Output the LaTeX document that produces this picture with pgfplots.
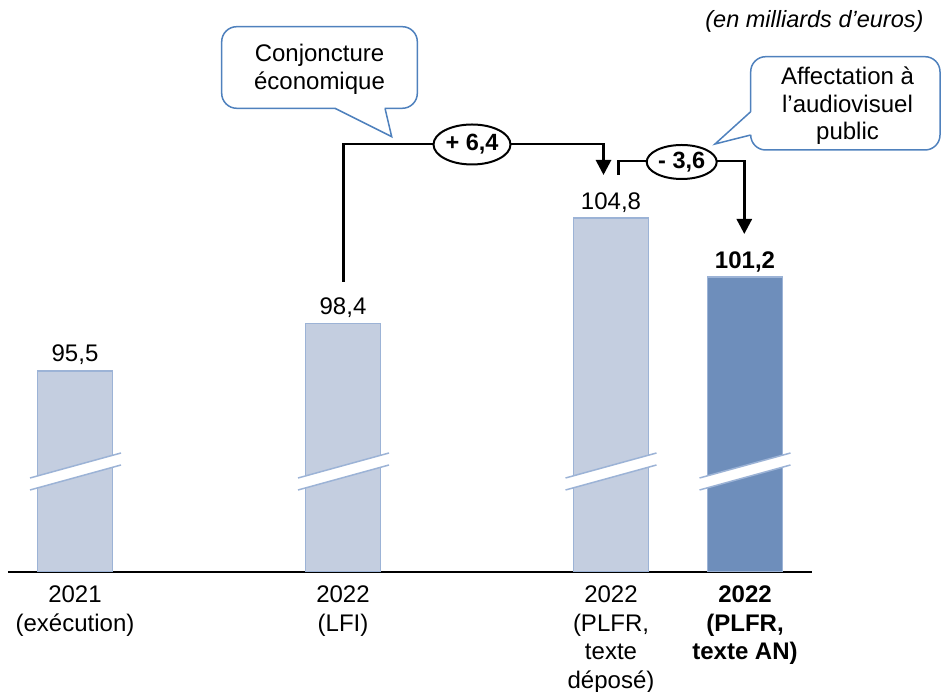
\documentclass[border=0pt]{standalone}
\usepackage{pgfplots}
\pgfplotsset{compat=1.18}
\usepackage{fontspec}
\setmainfont{Liberation Sans}
\usetikzlibrary{arrows.meta,shapes.geometric}

\definecolor{barlight}{RGB}{196,206,224}
\definecolor{bardark}{RGB}{110,142,187}
\definecolor{baredge}{RGB}{156,179,214}
\definecolor{callout}{RGB}{79,129,189}

\newcommand{\lbl}{\fontsize{24}{28.5}\selectfont}

\begin{document}
\begin{tikzpicture}
\useasboundingbox (-8pt,-120pt) rectangle (934pt,572pt);
\begin{axis}[
  at={(0pt,0pt)}, anchor=south west,
  width=804pt, height=572pt, scale only axis,
  xmin=-0.5, xmax=5.5, ymin=83.281, ymax=118.053,
  axis x line*=bottom, axis y line=none,
  x axis line style={black, line width=1.6pt},
  xtick={0,2,4,5},
  xticklabels={{2021\\(exécution)},{2022\\(LFI)},{2022\\(PLFR,\\texte\\déposé)},{\textbf{2022}\\\textbf{(PLFR,}\\\textbf{texte AN)}}},
  major tick length=0pt,
  xticklabel style={font=\lbl, align=center, anchor=north, inner sep=0pt, yshift=-14pt},
  ybar, clip mode=individual,
  /pgf/number format/assume math mode=true,
  nodes near coords={\pgfmathprintnumber[fixed,fixed zerofill,precision=1,use comma]{\pgfplotspointmeta}},
  every node near coord/.append style={font=\lbl, text=black, anchor=base, inner sep=0pt, yshift=9pt},
]
\addplot[fill=barlight, draw=baredge, line width=1.5pt, bar width=75pt, bar shift=0pt]
  coordinates {(0,95.5) (2,98.4) (4,104.8)};
\addplot[fill=bardark, draw=baredge, line width=1.5pt, bar width=75pt, bar shift=0pt,
  every node near coord/.append style={font=\lbl\bfseries}]
  coordinates {(5,101.2)};
\end{axis}

% annotations in a pixel-like frame: origin at the top-left corner, y downwards
\begin{scope}[x=1pt, y=-1pt, shift={(-8pt,572pt)}]
  % axis-break marks across each bar
  \foreach \c in {75,343,610.5,744.5} {
    \fill[white] (\c-45,478) -- (\c+46,453) -- (\c+46,465) -- (\c-45,490) -- cycle;
    \draw[baredge, line width=1.5pt] (\c-45,478) -- (\c+46,453);
    \draw[baredge, line width=1.5pt] (\c-45,490) -- (\c+46,465);
  }

  % bridge LFI -> PLFR
  \draw[line width=2.8pt, -{Triangle[width=15pt,length=15pt]}]
    (343.3,282) -- (343.3,144) -- (603.5,144) -- (603.5,175);
  \node[draw, ellipse, fill=white, line width=2pt, minimum width=77pt, minimum height=40pt,
        inner sep=0pt, font=\fontsize{23.5}{26}\selectfont\bfseries] at (472,144.5) {+ 6,4};

  % bridge PLFR -> texte AN
  \draw[line width=2.8pt, -{Triangle[width=15pt,length=15pt]}]
    (618.5,175) -- (618.5,161) -- (744.3,161) -- (744.3,234);
  \node[draw, ellipse, fill=white, line width=2pt, minimum width=70pt, minimum height=34pt,
        inner sep=0pt, font=\fontsize{23.5}{26}\selectfont\bfseries] at (681.7,162) {- 3,6};

  % callout: conjoncture
  \filldraw[fill=white, draw=callout, line width=1.5pt, rounded corners=15pt]
    (221.7,26.7) rectangle (417.3,108.3);
  \fill[white] (336,106.5) -- (384,106.5) -- (385,108.3) -- (391.7,136.7) -- (335,108.3) -- cycle;
  \draw[callout, line width=1.5pt] (335,108.3) -- (391.7,136.7) -- (385,108.3);
  \node[anchor=base, font=\lbl] at (319.5,61.7) {Conjoncture};
  \node[anchor=base, font=\lbl] at (319.5,90) {économique};

  % callout: audiovisuel public
  \filldraw[fill=white, draw=callout, line width=1.5pt, rounded corners=15pt]
    (750.7,56.7) rectangle (940,150);
  \fill[white] (752.5,112.5) -- (752.5,134) -- (750.7,135) -- (715,144) -- (750.7,111.7) -- cycle;
  \draw[callout, line width=1.5pt] (750.7,111.7) -- (715,144) -- (750.7,135);
  \node[anchor=base, font=\lbl] at (847.5,85) {Affectation à};
  \node[anchor=base, font=\lbl] at (847.5,112.7) {l’audiovisuel};
  \node[anchor=base, font=\lbl] at (847.5,140) {public};

  % unit
  \node[anchor=base east, font=\fontsize{23.5}{26}\selectfont\itshape] at (927,28) {(en milliards d’euros)};
\end{scope}
\end{tikzpicture}
\end{document}
